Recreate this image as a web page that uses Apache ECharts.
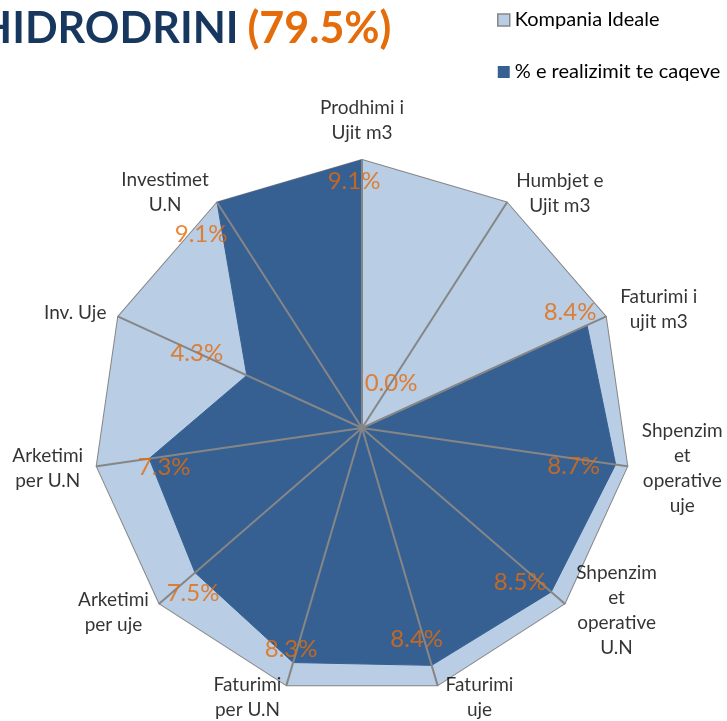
<!DOCTYPE html>
<html>
<head>
<meta charset="utf-8">
<script src="https://cdn.jsdelivr.net/npm/echarts@6/dist/echarts.min.js"></script>
<style>
html,body{margin:0;padding:0;background:#fff;}
#chart{width:727px;height:721px;}
</style>
</head>
<body>
<div id="chart"></div>
<script>
// ---- data ----
const categories = ['Prodhimi i\nUjit m3', 'Humbjet e\nUjit m3', 'Faturimi i\nujit m3', 'Shpenzim\net\noperative\nuje', 'Shpenzim\net\noperative\nU.N', 'Faturimi\nuje', 'Faturimi\nper U.N', 'Arketimi\nper uje', 'Arketimi\nper U.N', 'Inv. Uje', 'Investimet\nU.N'];
const idealValues = [9.1, 9.1, 9.1, 9.1, 9.1, 9.1, 9.1, 9.1, 9.1, 9.1, 9.1];
const realValues = [9.1, 0.0, 8.4, 8.7, 8.5, 8.4, 8.3, 7.5, 7.3, 4.3, 9.1];
const seriesNames = ['Kompania Ideale', '% e realizimit te caqeve'];
const titleName = 'HIDRODRINI';
const titleValue = '(79.5%)';
const axisMax = 9.1;

// ---- styles (label offsets in px) ----
const valueLabelOffsets = [[-8,21],[29,-45],[-17,-13],[-42,2],[-31,-10],[-15,-26],[-2,-13],[-2,21],[15,9],[-50,-22],[-16,32]];
const nameLabelOffsets = [[0,-40],[53,-9],[53,-7],[55,2],[52,7],[42,12],[-39,12],[-46,9],[-49,2],[-43,-4],[-52,-10]];
const FONT = 'Lato';
const ORANGE = '#E46C0A';
const LIGHT = '#B9CDE5';
const DARK = '#366092';
const GRAY = '#868686';
const CENTER = [362, 428];
const RADIUS = 268;

// ECharts radar places indicators counter-clockwise; the reference runs clockwise.
const radarOrder = [0].concat(categories.map((c, i) => i).slice(1).reverse());
const reorder = arr => radarOrder.map(i => arr[i]);

const chart = echarts.init(document.getElementById('chart'), null, {renderer: 'canvas'});

const valueLabelData = realValues.map((v, i) => ({
  value: [v, i],
  label: {offset: valueLabelOffsets[i]}
}));
const nameLabelData = idealValues.map((v, i) => ({
  value: [v, i],
  name: categories[i],
  label: {offset: nameLabelOffsets[i]}
}));

chart.setOption({
  backgroundColor: '#fff',
  animation: false,
  title: {
    text: '{a|' + titleName + '}{g|}{b|' + titleValue + '}',
    left: -21,
    top: 8,
    padding: 0,
    textStyle: {
      rich: {
        a: {fontFamily: FONT, fontWeight: 'bold', fontSize: 43, color: '#17375E'},
        g: {width: 9},
        b: {fontFamily: FONT, fontWeight: 'bold', fontSize: 43, color: ORANGE}
      }
    }
  },
  legend: {
    orient: 'vertical',
    left: 497,
    top: 10,
    padding: 0,
    itemGap: 32,
    itemWidth: 12,
    itemHeight: 12,
    icon: 'rect',
    textStyle: {fontFamily: FONT, fontSize: 20, color: '#000', lineHeight: 20},
    data: [
      {name: seriesNames[0], itemStyle: {color: LIGHT, borderColor: GRAY, borderWidth: 1.5}},
      {name: seriesNames[1], itemStyle: {color: DARK, borderWidth: 0}}
    ]
  },
  radar: {
    z: 5,
    center: CENTER,
    radius: RADIUS,
    startAngle: 90,
    shape: 'polygon',
    splitNumber: 1,
    indicator: reorder(categories).map(c => ({name: c, max: axisMax, min: 0})),
    axisName: {show: false},
    axisLine: {lineStyle: {color: GRAY, width: 2}},
    splitLine: {show: false},
    splitArea: {show: false},
    axisTick: {show: false},
    axisLabel: {show: false}
  },
  polar: {center: CENTER, radius: RADIUS},
  angleAxis: {type: 'value', min: 0, max: categories.length, startAngle: 90, clockwise: true, show: false},
  radiusAxis: {type: 'value', min: 0, max: axisMax, show: false},
  series: [
    {
      type: 'radar',
      name: seriesNames[0],
      z: 2,
      symbol: 'none',
      data: [{
        name: seriesNames[0],
        value: reorder(idealValues),
        lineStyle: {color: GRAY, width: 2},
        areaStyle: {color: LIGHT, opacity: 1},
        itemStyle: {color: LIGHT}
      }]
    },
    {
      type: 'radar',
      name: seriesNames[1],
      z: 3,
      symbol: 'none',
      data: [{
        name: seriesNames[1],
        value: reorder(realValues),
        lineStyle: {color: DARK, width: 1},
        areaStyle: {color: DARK, opacity: 1},
        itemStyle: {color: DARK}
      }]
    },
    {
      type: 'scatter',
      coordinateSystem: 'polar',
      z: 10,
      symbolSize: 0,
      silent: true,
      data: valueLabelData,
      label: {
        show: true,
        position: 'inside',
        formatter: p => p.value[0].toFixed(1) + '%',
        fontFamily: FONT,
        fontSize: 24,
        color: ORANGE,
        align: 'center',
        verticalAlign: 'middle'
      }
    },
    {
      type: 'scatter',
      coordinateSystem: 'polar',
      z: 10,
      symbolSize: 0,
      silent: true,
      data: nameLabelData,
      label: {
        show: true,
        position: 'inside',
        formatter: p => p.name,
        fontFamily: FONT,
        fontSize: 19,
        lineHeight: 25,
        color: '#000',
        align: 'center',
        verticalAlign: 'middle'
      }
    }
  ]
});
</script>
</body>
</html>
